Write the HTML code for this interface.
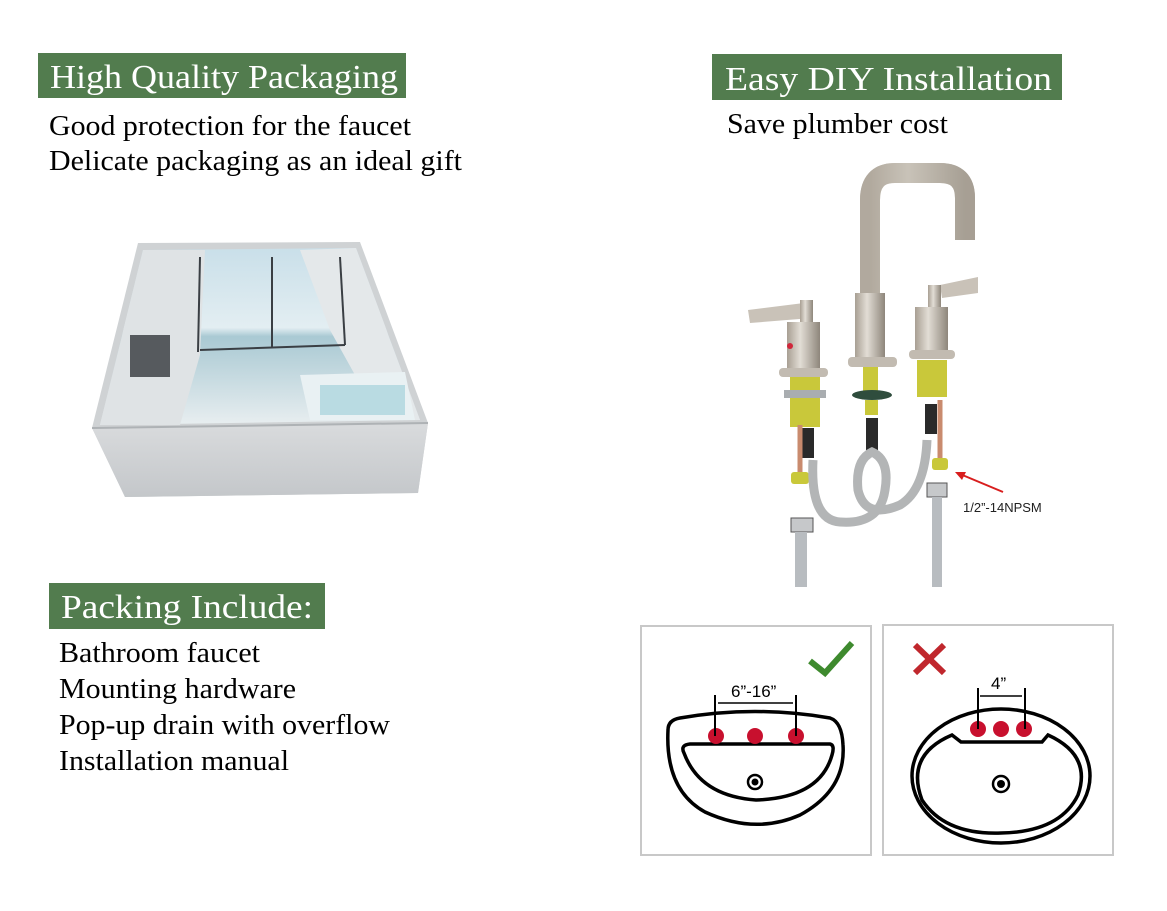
<!DOCTYPE html>
<html><head><meta charset="utf-8"><style>
html,body{margin:0;padding:0;background:#fff;}
svg{display:block}
.h{font-family:"Liberation Serif",serif;fill:#fff;font-size:34px}
.b{font-family:"Liberation Serif",serif;fill:#000;font-size:28px}
</style></head><body>
<svg width="1167" height="911" viewBox="0 0 1167 911" xmlns="http://www.w3.org/2000/svg">
<defs>
<linearGradient id="sky" x1="0" y1="0" x2="0" y2="1"><stop offset="0" stop-color="#c9dfe9"/><stop offset="0.45" stop-color="#e3eef2"/><stop offset="0.5" stop-color="#a9c9d3"/><stop offset="1" stop-color="#e8eef0"/></linearGradient>
<linearGradient id="front" x1="0" y1="0" x2="0" y2="1"><stop offset="0" stop-color="#d9dbdd"/><stop offset="1" stop-color="#c4c7ca"/></linearGradient>
<linearGradient id="metal" x1="0" y1="0" x2="1" y2="0"><stop offset="0" stop-color="#a89f93"/><stop offset="0.4" stop-color="#e2ddd5"/><stop offset="1" stop-color="#8e867b"/></linearGradient>
</defs>
<rect x="38" y="53" width="368" height="45" fill="#527c4e"/>
<text class="h" x="50" y="88" textLength="348" lengthAdjust="spacingAndGlyphs">High Quality Packaging</text>
<text class="b" x="49" y="135" textLength="362" lengthAdjust="spacingAndGlyphs">Good protection for the faucet</text>
<text class="b" x="49" y="170" textLength="413" lengthAdjust="spacingAndGlyphs">Delicate packaging as an ideal gift</text>

<rect x="712" y="54" width="350" height="46" fill="#527c4e"/>
<text class="h" x="725" y="90" textLength="327" lengthAdjust="spacingAndGlyphs">Easy DIY Installation</text>
<text class="b" x="727" y="133" textLength="221" lengthAdjust="spacingAndGlyphs">Save plumber cost</text>

<rect x="49" y="583" width="276" height="46" fill="#527c4e"/>
<text class="h" x="61" y="618" textLength="252" lengthAdjust="spacingAndGlyphs">Packing Include:</text>
<text class="b" x="59" y="662" textLength="201" lengthAdjust="spacingAndGlyphs">Bathroom faucet</text>
<text class="b" x="59" y="698" textLength="237" lengthAdjust="spacingAndGlyphs">Mounting hardware</text>
<text class="b" x="59" y="734" textLength="331" lengthAdjust="spacingAndGlyphs">Pop-up drain with overflow</text>
<text class="b" x="59" y="770" textLength="230" lengthAdjust="spacingAndGlyphs">Installation manual</text>

<!-- box -->
<polygon points="92,428 138,243 360,242 428,423 418,493 125,497" fill="#cfd2d4"/>
<polygon points="100,425 143,250 356,248 420,420" fill="url(#sky)"/>
<polygon points="100,425 143,250 205,250 200,355 180,425" fill="#dfe3e5"/>
<polygon points="300,250 356,248 420,420 380,420 330,330" fill="#e4e8ea"/>
<line x1="200" y1="257" x2="198" y2="352" stroke="#3a3f44" stroke-width="2"/>
<line x1="272" y1="257" x2="272" y2="348" stroke="#3a3f44" stroke-width="2"/>
<line x1="340" y1="257" x2="345" y2="345" stroke="#3a3f44" stroke-width="2"/>
<line x1="200" y1="350" x2="345" y2="345" stroke="#3a3f44" stroke-width="2"/>
<rect x="130" y="335" width="40" height="42" fill="#565a5e"/>
<polygon points="300,375 405,372 415,420 310,420" fill="#e9f1f3"/>
<rect x="320" y="385" width="85" height="30" fill="#b9dbe2"/>
<polygon points="92,428 428,423 418,493 125,497" fill="url(#front)"/>
<line x1="92" y1="428" x2="428" y2="423" stroke="#aeb2b5" stroke-width="2"/>

<!-- faucet -->
<path d="M870 293 L870 200 Q870 173 895 173 L940 173 Q965 173 965 198 L965 240" fill="none" stroke="url(#metal)" stroke-width="20"/>
<path d="M870 293 L870 200 Q870 173 895 173 L940 173 Q965 173 965 198 L965 240" fill="none" stroke="#b8b0a5" stroke-width="20" opacity="0.6"/>
<rect x="855" y="293" width="30" height="67" fill="url(#metal)"/>
<rect x="848" y="357" width="49" height="10" rx="4" fill="#c2bbb1"/>
<polygon points="748,310 812,302 812,318 750,323" fill="#c9c2b8"/>
<rect x="800" y="300" width="13" height="25" fill="url(#metal)"/>
<rect x="787" y="322" width="33" height="48" fill="url(#metal)"/>
<circle cx="790" cy="346" r="3" fill="#d0263a"/>
<rect x="779" y="368" width="49" height="9" rx="4" fill="#c2bbb1"/>
<polygon points="940,285 978,277 978,293 942,298" fill="#c9c2b8"/>
<rect x="928" y="285" width="13" height="25" fill="url(#metal)"/>
<rect x="915" y="307" width="33" height="46" fill="url(#metal)"/>
<rect x="909" y="350" width="46" height="9" rx="4" fill="#c2bbb1"/>
<rect x="790" y="377" width="30" height="50" fill="#c9c83a"/>
<rect x="784" y="390" width="42" height="8" fill="#a9adb0"/>
<rect x="917" y="360" width="30" height="37" fill="#c9c83a"/>
<rect x="863" y="367" width="15" height="28" fill="#c9c83a"/>
<ellipse cx="872" cy="395" rx="20" ry="5" fill="#2f4d3d"/>
<rect x="865" y="400" width="13" height="15" fill="#c9c83a"/>
<rect x="800" y="428" width="14" height="30" fill="#2a2a2a"/>
<rect x="866" y="418" width="12" height="36" fill="#2a2a2a"/>
<rect x="925" y="404" width="12" height="30" fill="#2a2a2a"/>
<line x1="800" y1="425" x2="800" y2="475" stroke="#c98b6e" stroke-width="5"/>
<line x1="940" y1="400" x2="940" y2="458" stroke="#c98b6e" stroke-width="5"/>
<rect x="791" y="472" width="18" height="12" rx="3" fill="#c9c83a"/>
<rect x="932" y="458" width="16" height="12" rx="3" fill="#c9c83a"/>
<path d="M813 460 Q810 520 840 522 Q880 525 885 490 Q890 460 872 452 Q855 460 858 490 Q865 520 900 505 Q925 490 927 440" fill="none" stroke="#b3b5b6" stroke-width="9"/>
<rect x="791" y="518" width="22" height="14" fill="#c6c8ca" stroke="#555" stroke-width="1"/>
<rect x="795" y="532" width="12" height="55" fill="#b8bcc0"/>
<rect x="927" y="483" width="20" height="14" fill="#c6c8ca" stroke="#555" stroke-width="1"/>
<rect x="932" y="497" width="10" height="90" fill="#b8bcc0"/>
<line x1="1003" y1="492" x2="960" y2="474" stroke="#d81e1e" stroke-width="2"/>
<polygon points="955,472 966,472 962,480" fill="#d81e1e"/>
<text x="963" y="512" font-family="Liberation Sans,sans-serif" font-size="13" fill="#222">1/2”-14NPSM</text>

<!-- sink panels -->
<rect x="641" y="626" width="230" height="229" fill="#fff" stroke="#c8c8c8" stroke-width="2"/>
<rect x="883" y="625" width="230" height="230" fill="#fff" stroke="#c8c8c8" stroke-width="2"/>
<polyline points="810,661 825,673 852,643" fill="none" stroke="#3e8a2e" stroke-width="6"/>
<path d="M668 730 Q668 720 680 718 Q755 705 830 718 Q842 722 843 745 Q846 790 800 815 Q755 835 705 812 Q665 790 668 730 Z" fill="none" stroke="#000" stroke-width="3.5"/>
<path d="M684 753 Q680 745 690 744 L830 744 Q835 745 832 755 Q820 798 756 800 Q700 796 684 753 Z" fill="none" stroke="#000" stroke-width="3.5"/>
<circle cx="755" cy="782" r="7" fill="none" stroke="#000" stroke-width="2.5"/>
<circle cx="755" cy="782" r="3.5" fill="#000"/>
<circle cx="716" cy="736" r="8" fill="#c8102e"/>
<circle cx="755" cy="736" r="8" fill="#c8102e"/>
<circle cx="796" cy="736" r="8" fill="#c8102e"/>
<line x1="715" y1="695" x2="715" y2="736" stroke="#000" stroke-width="2"/>
<line x1="796" y1="695" x2="796" y2="736" stroke="#000" stroke-width="2"/>
<line x1="718" y1="703" x2="793" y2="703" stroke="#000" stroke-width="1.5"/>
<text x="731" y="697" font-family="Liberation Sans,sans-serif" font-size="17" fill="#000">6”-16”</text>
<line x1="915" y1="645" x2="944" y2="673" stroke="#c0272d" stroke-width="6"/>
<line x1="944" y1="645" x2="915" y2="673" stroke="#c0272d" stroke-width="6"/>
<ellipse cx="1001" cy="776" rx="89" ry="67" fill="none" stroke="#000" stroke-width="3.5"/>
<path d="M952 735 Q905 755 922 800 Q945 835 1001 833 Q1060 832 1078 795 Q1092 755 1048 735 L1042 742 L961 742 Z" fill="none" stroke="#000" stroke-width="3.5"/>
<circle cx="1001" cy="784" r="8" fill="none" stroke="#000" stroke-width="2.5"/>
<circle cx="1001" cy="784" r="4" fill="#000"/>
<circle cx="978" cy="729" r="8" fill="#c8102e"/>
<circle cx="1001" cy="729" r="8" fill="#c8102e"/>
<circle cx="1024" cy="729" r="8" fill="#c8102e"/>
<line x1="978" y1="688" x2="978" y2="729" stroke="#000" stroke-width="2"/>
<line x1="1025" y1="688" x2="1025" y2="729" stroke="#000" stroke-width="2"/>
<line x1="980" y1="696" x2="1022" y2="696" stroke="#000" stroke-width="1.5"/>
<text x="991" y="689" font-family="Liberation Sans,sans-serif" font-size="17" fill="#000">4”</text>
</svg>
</body></html>
